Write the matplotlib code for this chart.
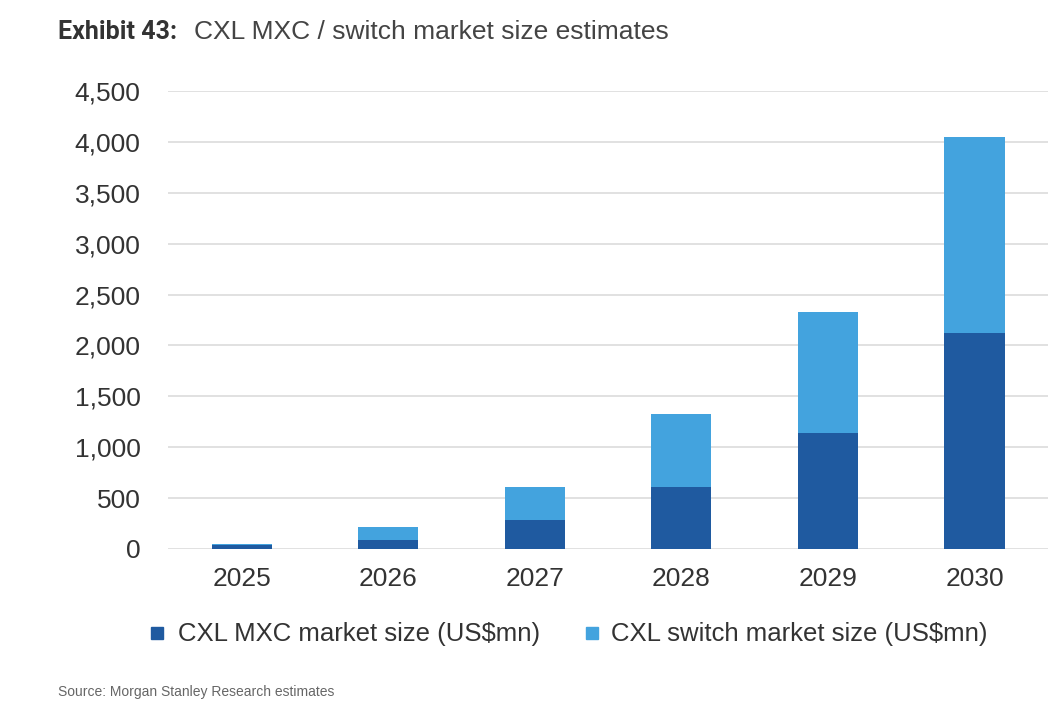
import matplotlib.pyplot as plt
from matplotlib.patches import Rectangle

plt.rcParams['font.family'] = ['Liberation Sans', 'DejaVu Sans']

years = ['2025', '2026', '2027', '2028', '2029', '2030']
mxc = [35, 90, 285, 610, 1140, 2120]
switch = [15, 125, 325, 715, 1190, 1930]

dark = '#1f5aa0'
light = '#43a3de'

fig = plt.figure(figsize=(10.52, 7.01), dpi=100)
ax = fig.add_axes([0.16, 0.217, 0.836, 0.653])

x = range(len(years))
ax.bar(x, mxc, width=0.41, color=dark, zorder=3)
ax.bar(x, switch, width=0.41, bottom=mxc, color=light, zorder=3)

ax.set_xlim(-0.5, 5.5)
ax.set_ylim(0, 4500)
ax.set_yticks(range(0, 4501, 500))
ax.set_yticklabels([f'{v:,}' for v in range(0, 4501, 500)])
ax.set_xticks(list(x))
ax.set_xticklabels(years)
ax.grid(axis='y', color='#dcdcdc', linewidth=1.2, zorder=0)
for s in ax.spines.values():
    s.set_visible(False)
ax.tick_params(length=0, labelsize=19, labelcolor='#333333')
ax.tick_params(axis='y', pad=20)
ax.tick_params(axis='x', pad=13)

# title
fig.text(0.055, 0.955, 'Exhibit 43:', fontsize=18, fontweight='bold',
         family=['Roboto', 'DejaVu Sans'], color='#333333', va='center')
fig.text(0.184, 0.955, 'CXL MXC / switch market size estimates', fontsize=19,
         color='#444444', va='center')

# legend
fig.patches.append(Rectangle((0.144, 0.088), 0.011, 0.017, color=dark,
                             transform=fig.transFigure, figure=fig))
fig.text(0.169, 0.096, 'CXL MXC market size (US$mn)', fontsize=18.5,
         color='#333333', va='center')
fig.patches.append(Rectangle((0.557, 0.088), 0.011, 0.017, color=light,
                             transform=fig.transFigure, figure=fig))
fig.text(0.581, 0.096, 'CXL switch market size (US$mn)', fontsize=18.5,
         color='#333333', va='center')

fig.text(0.055, 0.003, 'Source: Morgan Stanley Research estimates', fontsize=10,
         color='#666666', va='bottom')

fig.savefig('out.png', dpi=100)
